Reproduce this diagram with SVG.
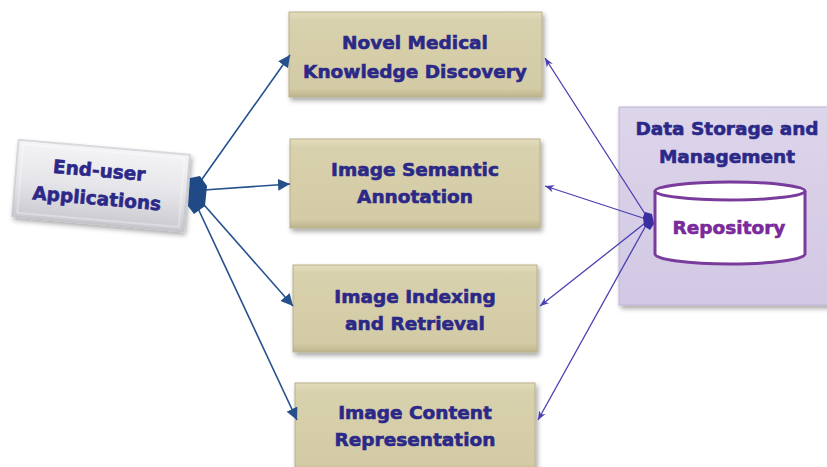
<svg xmlns="http://www.w3.org/2000/svg" width="827" height="467" viewBox="0 0 827 467">
<defs>
<style>
.t{font-family:"DejaVu Sans","Liberation Sans",sans-serif;font-weight:bold;font-size:18.5px;fill:#2b2888;stroke:#2b2888;stroke-width:0.6;text-anchor:middle}
.tan{fill:url(#gt);stroke:#b9b088;stroke-width:1}
.la{stroke:#25508c;stroke-width:1.6;fill:none}
.ra{stroke:#4a3fb0;stroke-width:1.3;fill:none;marker-end:url(#ap)}
</style>
<linearGradient id="gt" x1="0" y1="0" x2="0" y2="1">
<stop offset="0" stop-color="#e3ddbd"/><stop offset="0.1" stop-color="#d8d1ad"/><stop offset="0.9" stop-color="#d3cba5"/><stop offset="1" stop-color="#bdb48c"/>
</linearGradient>
<linearGradient id="gw" x1="0" y1="0" x2="0" y2="1">
<stop offset="0" stop-color="#f4f4f6"/><stop offset="0.5" stop-color="#e6e6ea"/><stop offset="1" stop-color="#c9c9d0"/>
</linearGradient>
<linearGradient id="gp" x1="0" y1="0" x2="0" y2="1">
<stop offset="0" stop-color="#ddd5ea"/><stop offset="1" stop-color="#d2c8e4"/>
</linearGradient>
<filter id="sh" x="-10%" y="-10%" width="125%" height="130%">
<feDropShadow dx="2" dy="3" stdDeviation="2.5" flood-color="#000" flood-opacity="0.35"/>
</filter>
<marker id="ab2" viewBox="0 0 10 10" refX="10" refY="5" markerWidth="12" markerHeight="12" markerUnits="userSpaceOnUse" orient="auto">
<path d="M0,0 L10,5 L0,10 z" fill="#25508c"/>
</marker>
<marker id="ap" viewBox="0 0 10 10" refX="10" refY="5" markerWidth="9" markerHeight="9" markerUnits="userSpaceOnUse" orient="auto">
<path d="M0,1 L10,5 L0,9 L3,5 z" fill="#4a3fb0"/>
</marker>
</defs>
<rect width="827" height="467" fill="#ffffff"/>

<g id="end-user">
<g transform="rotate(5 100 185)" filter="url(#sh)">
<rect x="15" y="147" width="172" height="77" fill="url(#gw)" stroke="#bbbbc4"/>
<rect x="20" y="151" width="162" height="69" fill="none" stroke="#ffffff" stroke-opacity="0.6"/>
</g>
<g transform="rotate(5 100 185)">
<text class="t" x="98" y="177">End-user</text>
<text class="t" x="98" y="205">Applications</text>
</g>
</g>

<g id="node-discovery">
<rect class="tan" x="289" y="12" width="253" height="85" filter="url(#sh)"/>
<text class="t" x="415" y="49">Novel Medical</text>
<text class="t" x="415" y="78">Knowledge Discovery</text>
</g>

<g id="node-annotation">
<rect class="tan" x="290" y="139" width="250" height="89" filter="url(#sh)"/>
<text class="t" x="415" y="176">Image Semantic</text>
<text class="t" x="415" y="203">Annotation</text>
</g>

<g id="node-indexing">
<rect class="tan" x="293" y="265" width="244" height="87" filter="url(#sh)"/>
<text class="t" x="415" y="303">Image Indexing</text>
<text class="t" x="415" y="330">and Retrieval</text>
</g>

<g id="node-representation">
<rect class="tan" x="295" y="383" width="240" height="90" filter="url(#sh)"/>
<text class="t" x="415" y="419">Image Content</text>
<text class="t" x="415" y="446">Representation</text>
</g>

<g id="data-storage">
<rect x="619" y="107" width="215" height="198" fill="url(#gp)" stroke="#bfb3d6" filter="url(#sh)"/>
<text class="t" x="727" y="135">Data Storage and</text>
<text class="t" x="727" y="163">Management</text>
</g>

<g id="repository">
<path d="M655,191 L655,254 A75,10 0 0 0 805,254 L805,191" fill="#ffffff" stroke="#7a3c9c" stroke-width="3"/>
<ellipse cx="730" cy="191" rx="75" ry="9" fill="#ffffff" stroke="#7a3c9c" stroke-width="3"/>
<text class="t" x="729" y="234" style="fill:#7a2a9a;stroke:#7a2a9a">Repository</text>
</g>

<g id="connectors">
<line class="la" x1="200" y1="182" x2="290" y2="55" marker-end="url(#ab2)"/>
<line class="la" x1="204" y1="190" x2="290" y2="184" marker-end="url(#ab2)"/>
<line class="la" x1="198" y1="198" x2="293" y2="306" marker-end="url(#ab2)"/>
<line class="la" x1="195" y1="202" x2="297" y2="420" marker-end="url(#ab2)"/>
<path d="M190,178 L200,176 L207,186 L205,206 L194,214 L188,206 z" fill="#1f4a86"/>
<line class="ra" x1="649" y1="220" x2="545" y2="58"/>
<line class="ra" x1="649" y1="220" x2="545" y2="186"/>
<line class="ra" x1="649" y1="220" x2="540" y2="306"/>
<line class="ra" x1="649" y1="220" x2="538" y2="420"/>
<path d="M645,212 L652,214 L654,224 L650,230 L644,226 L643,217 z" fill="#3a2fa0"/>
</g>
</svg>
